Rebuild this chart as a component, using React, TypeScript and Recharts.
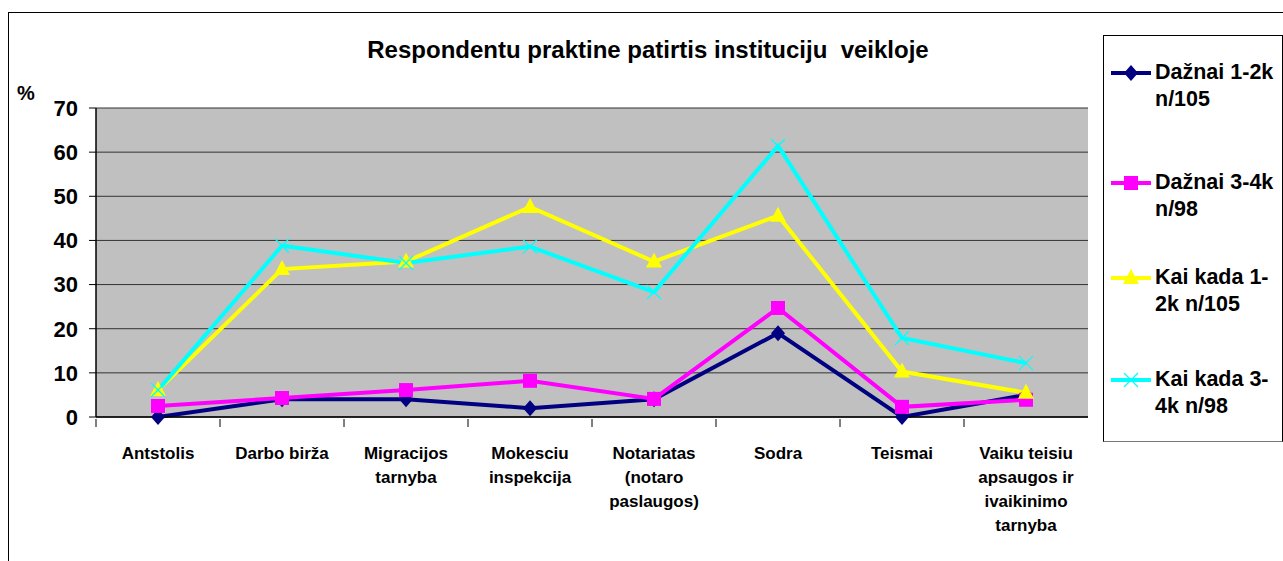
import React from 'react';
import { LineChart, Line, XAxis, YAxis, CartesianGrid } from 'recharts';

// categories and series values (%)
const categories = [
  'Antstolis',
  'Darbo birža',
  'Migracijos\ntarnyba',
  'Mokesciu\ninspekcija',
  'Notariatas\n(notaro\npaslaugos)',
  'Sodra',
  'Teismai',
  'Vaiku teisiu\napsaugos ir\nivaikinimo\ntarnyba',
];
const daznai12 = [0, 4, 4, 2, 4, 19, 0, 5];
const daznai34 = [2.5, 4.3, 6.1, 8.2, 4.1, 24.7, 2.3, 3.9];
const kaiKada12 = [6.1, 33.5, 35.2, 47.6, 35.2, 45.6, 10.3, 5.5];
const kaiKada34 = [6.1, 38.8, 34.9, 38.6, 28.3, 61.4, 17.9, 12.2];
const yTicks = [0, 10, 20, 30, 40, 50, 60, 70];

const seriesNames = ['Dažnai 1-2k\nn/105', 'Dažnai 3-4k\nn/98', 'Kai kada 1-\n2k n/105', 'Kai kada 3-\n4k n/98'];
const seriesColors = ['#000080', '#FF00FF', '#FFFF00', '#00FFFF'];
const seriesKeys = ['d12', 'd34', 'k12', 'k34'];

const data = categories.map((c, i) => ({
  name: c,
  d12: daznai12[i],
  d34: daznai34[i],
  k12: kaiKada12[i],
  k34: kaiKada34[i],
}));

const W = 1283;
const H = 561;
const M = { top: 108, right: 195, left: 46, bottom: 0 };
const Y_AXIS_W = 50;
const plotW = W - M.left - M.right - Y_AXIS_W;
const band = plotW / categories.length;

const FONT = '"Liberation Sans", Arial, sans-serif';

function Marker({ kind, cx, cy, color }: { kind: number; cx: number; cy: number; color: string }) {
  if (kind === 0) {
    return <path d={`M${cx},${cy - 8} L${cx + 7},${cy} L${cx},${cy + 8} L${cx - 7},${cy} Z`} fill={color} />;
  }
  if (kind === 1) {
    return <rect x={cx - 7} y={cy - 7} width={14} height={14} fill={color} />;
  }
  if (kind === 2) {
    return <path d={`M${cx},${cy - 9} L${cx + 8},${cy + 6} L${cx - 8},${cy + 6} Z`} fill={color} />;
  }
  return (
    <path
      d={`M${cx - 7},${cy - 7} L${cx + 7},${cy + 7} M${cx + 7},${cy - 7} L${cx - 7},${cy + 7}`}
      stroke={color}
      strokeWidth={1.3}
      fill="none"
    />
  );
}

const XTick = (props: any) => {
  const { x, y, payload } = props;
  const lines = String(payload.value).split('\n');
  const left = x - band / 2;
  return (
    <g>
      <line x1={left} y1={y} x2={left} y2={y + 8} stroke="#000" strokeWidth={1} />
      <text
        x={x}
        y={y + 40}
        textAnchor="middle"
        fontFamily={FONT}
        fontWeight="bold"
        fontSize={17}
        fill="#000"
      >
        {lines.map((l, i) => (
          <tspan key={i} x={x} dy={i === 0 ? 0 : 24}>
            {l}
          </tspan>
        ))}
      </text>
    </g>
  );
};

const LegendBox = () => (
  <div
    style={{
      position: 'absolute',
      left: 1103,
      top: 35,
      width: 180,
      height: 407,
      border: '1px solid #000',
      borderBottomColor: '#777',
      background: '#fff',
      boxSizing: 'border-box',
    }}
  >
    {seriesNames.map((n, i) => {
      const top = [23, 133, 228, 330][i];
      return (
        <div key={n} style={{ position: 'absolute', left: 6, top, display: 'flex', alignItems: 'flex-start' }}>
          <svg width={42} height={28} style={{ flex: 'none' }}>
            <line x1={1} y1={14} x2={41} y2={14} stroke={seriesColors[i]} strokeWidth={4} />
            <Marker kind={i} cx={21} cy={14} color={seriesColors[i]} />
          </svg>
          <div
            style={{
              marginLeft: 3,
              fontFamily: FONT,
              fontWeight: 'bold',
              fontSize: 21.5,
              lineHeight: '27px',
              whiteSpace: 'pre',
              color: '#000',
            }}
          >
            {n}
          </div>
        </div>
      );
    })}
  </div>
);

export default function App() {
  return (
    <div style={{ position: 'absolute', left: 0, top: 0, width: W, height: H, background: '#fff', overflow: 'hidden' }}>
      <div
        style={{
          position: 'absolute',
          left: 8,
          top: 12,
          width: W,
          height: H,
          borderLeft: '1px solid #000',
          borderTop: '1px solid #000',
        }}
      />
      <div
        style={{
          position: 'absolute',
          left: 0,
          width: 1296,
          top: 36,
          textAlign: 'center',
          fontFamily: FONT,
          fontWeight: 'bold',
          fontSize: 24,
          color: '#000',
        }}
      >
        Respondentu praktine patirtis instituciju&nbsp; veikloje
      </div>
      <div
        style={{
          position: 'absolute',
          left: 17,
          top: 82,
          fontFamily: FONT,
          fontWeight: 'bold',
          fontSize: 20,
          color: '#000',
        }}
      >
        %
      </div>
      <div style={{ position: 'absolute', left: 0, top: 0 }}>
        <LineChart width={W} height={H} data={data} margin={M}>
          <CartesianGrid vertical={false} fill="#C0C0C0" stroke="#333" strokeOpacity={1} />
          <XAxis
            dataKey="name"
            interval={0}
            height={144}
            padding={{ left: band / 2, right: band / 2 }}
            tickSize={0}
            tickLine={false}
            axisLine={{ stroke: '#000', strokeWidth: 1.5 }}
            tick={<XTick />}
          />
          <YAxis
            domain={[0, 70]}
            ticks={yTicks}
            width={Y_AXIS_W}
            tickSize={7}
            tickMargin={11}
            tickLine={{ stroke: '#000' }}
            axisLine={{ stroke: '#000', strokeWidth: 1.5 }}
            tick={{ fontFamily: FONT, fontWeight: 'bold', fontSize: 22, fill: '#000' }}
          />
          {seriesKeys.map((k, i) => (
            <Line
              key={k}
              type="linear"
              dataKey={k}
              name={seriesNames[i]}
              stroke={seriesColors[i]}
              strokeWidth={4}
              isAnimationActive={false}
              dot={(p: any) => <Marker key={`${k}-${p.index}`} kind={i} cx={p.cx} cy={p.cy} color={seriesColors[i]} />}
              activeDot={false}
            />
          ))}
        </LineChart>
      </div>
      <LegendBox />
    </div>
  );
}
